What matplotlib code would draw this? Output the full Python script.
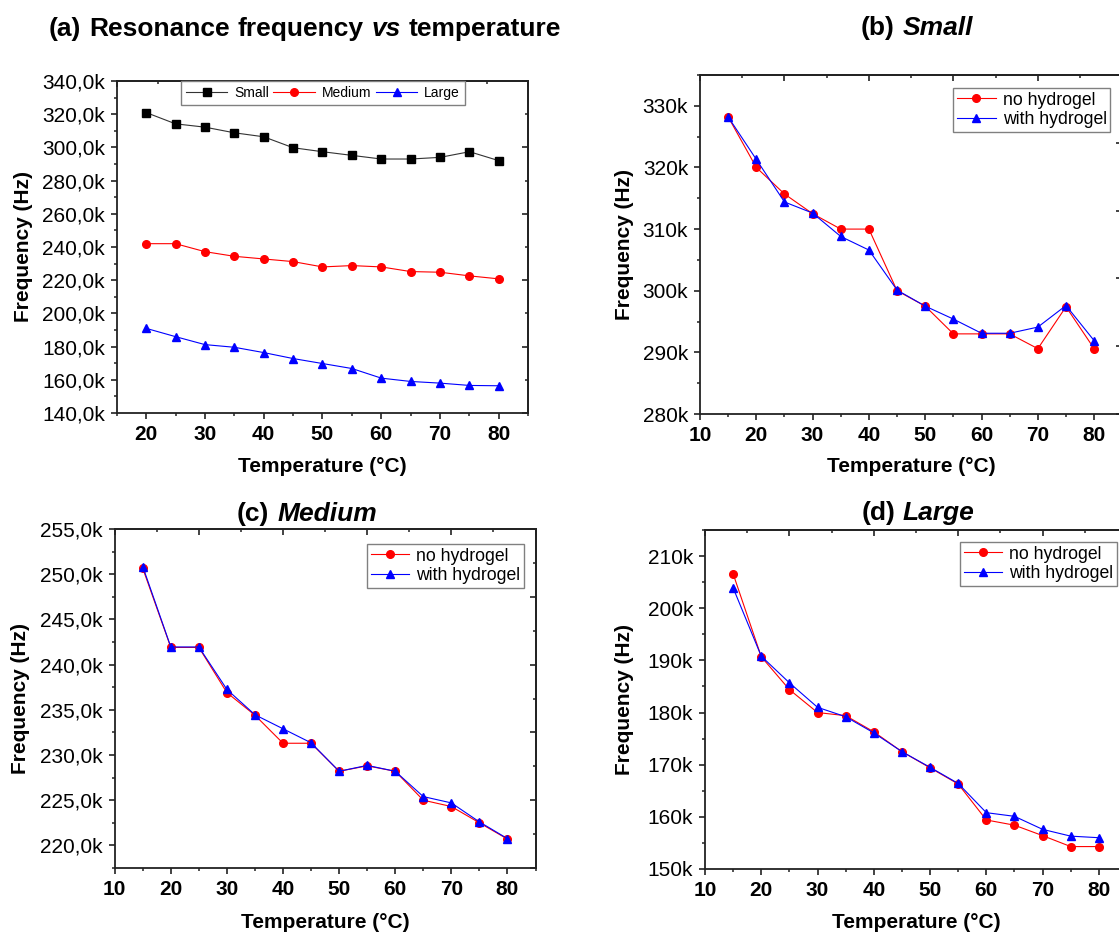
import matplotlib
matplotlib.use('Agg')
import matplotlib.pyplot as plt
from matplotlib.ticker import MultipleLocator, FuncFormatter
from matplotlib.transforms import IdentityTransform

plt.rcParams['font.family'] = ['Liberation Sans', 'DejaVu Sans']
plt.rcParams['axes.linewidth'] = 1.3
plt.rcParams['axes.edgecolor'] = '#222222'

# ---------------- data (kHz) ----------------
temps_a = [20, 25, 30, 35, 40, 45, 50, 55, 60, 65, 70, 75, 80]
small_a = [321.0, 314.2, 312.2, 308.8, 306.4, 299.8, 297.4, 295.2, 293.0, 293.0, 294.0, 297.4, 292.0]
medium_a = [242.0, 242.0, 237.2, 234.4, 232.8, 231.2, 228.0, 228.8, 228.0, 225.2, 224.8, 222.6, 220.8]
large_a = [191.0, 186.0, 181.2, 179.6, 176.4, 172.8, 169.8, 166.8, 161.0, 159.0, 158.0, 156.6, 156.4]

temps = [15, 20, 25, 30, 35, 40, 45, 50, 55, 60, 65, 70, 75, 80]
small_no = [328.2, 320.0, 315.7, 312.5, 310.0, 310.0, 300.0, 297.5, 293.0, 293.0, 293.0, 290.6, 297.4, 290.6]
small_with = [328.2, 321.3, 314.4, 312.6, 308.8, 306.6, 300.1, 297.5, 295.4, 293.1, 293.1, 294.1, 297.6, 291.9]
medium_no = [250.65, 241.9, 241.9, 236.9, 234.4, 231.3, 231.3, 228.2, 228.8, 228.2, 225.0, 224.3, 222.5, 220.7]
medium_with = [250.85, 241.95, 241.95, 237.25, 234.45, 232.9, 231.35, 228.2, 228.85, 228.2, 225.4, 224.7, 222.6, 220.75]
large_no = [206.6, 190.7, 184.4, 180.0, 179.4, 176.3, 172.5, 169.4, 166.3, 159.4, 158.4, 156.4, 154.3, 154.3]
large_with = [203.9, 190.8, 185.7, 181.0, 179.2, 176.1, 172.5, 169.5, 166.4, 160.8, 160.1, 157.6, 156.3, 156.0]

series_a_labels = ['Small', 'Medium', 'Large']
hyd_labels = ['no hydrogel', 'with hydrogel']

# ---------------- layout ----------------
W, H, DPI = 1119, 935, 100
fig = plt.figure(figsize=(W / DPI, H / DPI), dpi=DPI)
fig.patch.set_facecolor('white')


def rect(l, t, r, b):
    return [l / W, 1 - b / H, (r - l) / W, (b - t) / H]


RECT_A = (116.7, 81, 528.3, 413)
RECT_B = (700, 75, 1122.3, 414)
RECT_C = (114.7, 529, 535.5, 868)
RECT_D = (705, 530, 1127, 869)

ax_a = fig.add_axes(rect(*RECT_A))
ax_b = fig.add_axes(rect(*RECT_B))
ax_c = fig.add_axes(rect(*RECT_C))
ax_d = fig.add_axes(rect(*RECT_D))

RED = '#ff0000'
BLUE = '#0000ff'
MS = 5.5
LW = 0.8

# (a)
ax_a.plot(temps_a, small_a, '-s', color='#333333', mfc='black', mec='black', ms=MS, lw=LW, label=series_a_labels[0])
ax_a.plot(temps_a, medium_a, '-o', color=RED, mfc=RED, mec=RED, ms=MS, lw=LW, label=series_a_labels[1])
ax_a.plot(temps_a, large_a, '-^', color=BLUE, mfc=BLUE, mec=BLUE, ms=MS + 0.5, lw=LW, label=series_a_labels[2])

for ax, no, wi in [(ax_b, small_no, small_with), (ax_c, medium_no, medium_with), (ax_d, large_no, large_with)]:
    ax.plot(temps, no, '-o', color=RED, mfc=RED, mec=RED, ms=MS, lw=LW, label=hyd_labels[0])
    ax.plot(temps, wi, '-^', color=BLUE, mfc=BLUE, mec=BLUE, ms=MS + 0.5, lw=LW, label=hyd_labels[1])

ax_a.set_xlim(15, 85); ax_a.set_ylim(140, 340)
ax_b.set_xlim(10, 85); ax_b.set_ylim(280, 335)
ax_c.set_xlim(10, 85); ax_c.set_ylim(217.5, 255)
ax_d.set_xlim(10, 85); ax_d.set_ylim(150, 215)

fmt_dec = FuncFormatter(lambda v, p: f"{v:.1f}k".replace('.', ','))
fmt_int = FuncFormatter(lambda v, p: f"{v:.0f}k")

for ax, ymaj, ymin, fmt in [(ax_a, 20, 10, fmt_dec), (ax_b, 10, 5, fmt_int),
                            (ax_c, 5, 2.5, fmt_dec), (ax_d, 10, 5, fmt_int)]:
    ax.xaxis.set_major_locator(MultipleLocator(10))
    ax.xaxis.set_minor_locator(MultipleLocator(5))
    ax.yaxis.set_major_locator(MultipleLocator(ymaj))
    ax.yaxis.set_minor_locator(MultipleLocator(ymin))
    ax.yaxis.set_major_formatter(fmt)
    ax.tick_params(which='major', direction='out', length=4.5, width=1.2, pad=4, colors='#222222', labelcolor='black')
    ax.tick_params(which='minor', direction='out', length=2.5, width=1.1, colors='#222222')
    ax.tick_params(axis='y', labelsize=15)
    ax.tick_params(axis='x', labelsize=15)
    for lab in ax.get_xticklabels():
        lab.set_fontweight('bold')
    # independent top / right frame ticks (Origin style)
    x0, x1 = ax.get_xlim()
    y0, y1 = ax.get_ylim()
    sx = ax.secondary_xaxis('top', functions=(lambda x, a=x0, b=x1: (x - a) / (b - a),
                                              lambda f, a=x0, b=x1: a + f * (b - a)))
    sy = ax.secondary_yaxis('right', functions=(lambda y, a=y0, b=y1: (y - a) / (b - a),
                                                lambda f, a=y0, b=y1: a + f * (b - a)))
    for sec, axis in [(sx, sx.xaxis), (sy, sy.yaxis)]:
        axis.set_major_locator(MultipleLocator(0.2))
        axis.set_minor_locator(MultipleLocator(0.1))
        sec.tick_params(which='major', direction='in', length=4.5, width=1.2, colors='#222222')
        sec.tick_params(which='minor', direction='in', length=2.5, width=1.1, colors='#222222')
        sec.tick_params(labeltop=False, labelright=False, labelbottom=False, labelleft=False)

    ax.set_xlabel('Temperature (°C)', fontsize=15, fontweight='bold')
    ax.set_ylabel('Frequency (Hz)', fontsize=15, fontweight='bold')


def place_labels(ax, ax_rect_px, xlab_y, ylab_x):
    l, t, r, b = ax_rect_px
    fy = (xlab_y - b) / (b - t)
    ax.xaxis.set_label_coords(0.5, -fy)
    ax.xaxis.label.set_va('center')
    fx = (l - ylab_x) / (r - l)
    ax.yaxis.set_label_coords(-fx, 0.5)
    ax.yaxis.label.set_va('center')


place_labels(ax_a, RECT_A, 466, 24)
place_labels(ax_b, RECT_B, 466, 625)
place_labels(ax_c, RECT_C, 922, 21)
place_labels(ax_d, RECT_D, 923, 625)

# legends
leg_a = ax_a.legend(loc='upper center', bbox_to_anchor=(0.501, 1.0), borderaxespad=0, ncol=3,
                    fontsize=10, frameon=True, fancybox=False, edgecolor='#808080', framealpha=1,
                    handlelength=3.0, columnspacing=0.3, handletextpad=0.5, borderpad=0.35, numpoints=1)
leg_a.get_frame().set_linewidth(1.0)


def hyd_legend(ax, ax_rect_px, gap_r, gap_t):
    l, t, r, b = ax_rect_px
    leg = ax.legend(loc='upper right', bbox_to_anchor=(1 - gap_r / (r - l), 1 - gap_t / (b - t)),
                    borderaxespad=0, fontsize=12.7, frameon=True, fancybox=False, edgecolor='#808080',
                    framealpha=1, handlelength=2.2, handletextpad=0.4, borderpad=0.2,
                    labelspacing=0.15, numpoints=1)
    leg.get_frame().set_linewidth(1.0)


hyd_legend(ax_b, RECT_B, 12, 13)
hyd_legend(ax_c, RECT_C, 11.5, 15)
hyd_legend(ax_d, RECT_D, 10, 12)

# titles with mixed bold / bold-italic runs
renderer = fig.canvas.get_renderer()


def rich_title(xc, yc, pieces, size=19):
    objs = []
    for s, st in pieces:
        t = fig.text(0, 0, s, fontsize=size, fontweight='bold', fontstyle=st,
                     transform=IdentityTransform(), va='center', ha='left')
        objs.append(t)
    widths = [o.get_window_extent(renderer).width for o in objs]
    gap = 0.30 * size * DPI / 72
    total = sum(widths) + gap * (len(objs) - 1)
    x = xc - total / 2
    for o, w in zip(objs, widths):
        o.set_position((x, H - yc))
        x += w + gap


rich_title(305, 29, [('(a)', 'normal'), ('Resonance', 'normal'), ('frequency', 'normal'),
                     ('vs', 'italic'), ('temperature', 'normal')])
rich_title(917, 28, [('(b)', 'normal'), ('Small', 'italic')])
rich_title(307, 514, [('(c)', 'normal'), ('Medium', 'italic')])
rich_title(918, 513, [('(d)', 'normal'), ('Large', 'italic')])

fig.savefig('out.png', dpi=DPI)
